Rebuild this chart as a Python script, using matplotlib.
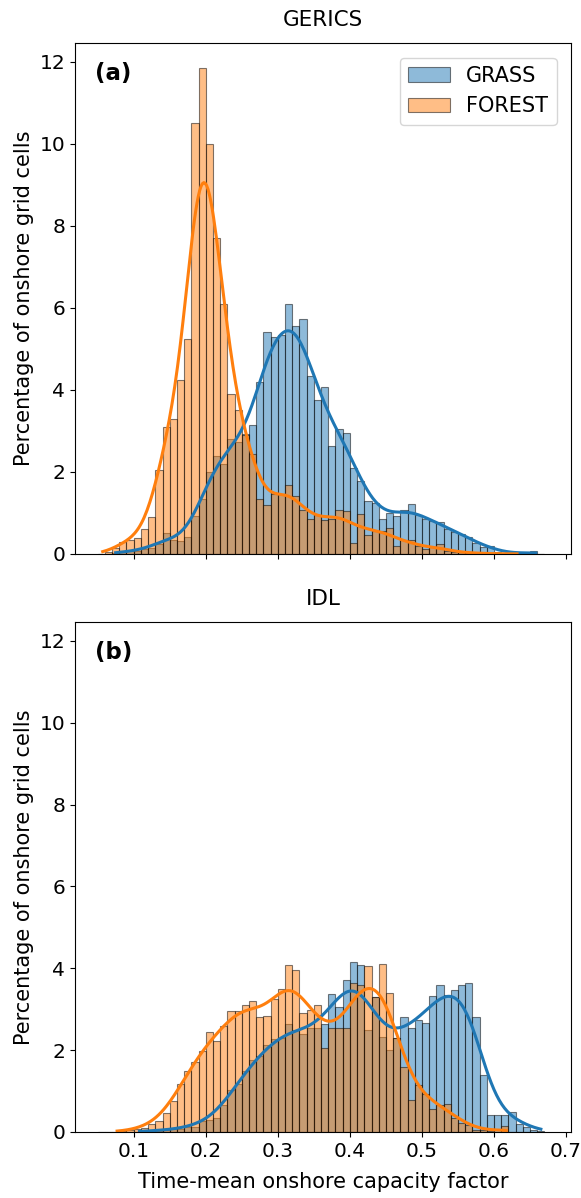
import numpy as np
import matplotlib
matplotlib.use("Agg")
import matplotlib.pyplot as plt
from matplotlib.patches import Patch

# histogram bins: left edges 0.05 ... 0.66, width 0.01
bin_width = 0.01
bin_left = np.round(0.05 + bin_width * np.arange(62), 2)

# percentage of onshore grid cells per bin
gerics_grass = [
    0, 0, 0.02, 0.05, 0.07, 0.08, 0.12, 0.15, 0.25, 0.5,
    0.35, 0.31, 0.41, 0.93, 1.34, 1.99, 2.4, 2.2, 2.8, 2.72,
    2.93, 3.15, 4.2, 5.42, 5.28, 5.34, 6.1, 5.56, 5.72, 4.34,
    3.76, 4.06, 2.63, 3.04, 2.96, 2.09, 1.77, 1.28, 1.25, 0.85,
    1.0, 0.92, 1.07, 1.21, 0.95, 0.85, 0.8, 0.78, 0.62, 0.54,
    0.48, 0.42, 0.26, 0.18, 0.2, 0.05, 0.03, 0.02, 0.01, 0.01,
    0.08, 0,
]
gerics_forest = [
    0, 0.05, 0.15, 0.3, 0.35, 0.4, 0.6, 0.9, 2.05, 3.1,
    3.3, 4.25, 5.25, 10.5, 11.85, 10.0, 7.7, 6.1, 3.9, 3.5,
    2.9, 2.44, 1.35, 1.2, 1.46, 1.46, 1.67, 1.42, 1.06, 0.85,
    0.95, 0.83, 0.85, 1.06, 1.05, 0.26, 0.98, 0.46, 0.55, 0.55,
    0.64, 0.2, 0.33, 0.34, 0.2, 0.11, 0.16, 0.24, 0.06, 0.05,
    0.04, 0.03, 0.02, 0.01, 0.01, 0.0, 0.01, 0, 0, 0,
    0, 0,
]
idl_grass = [
    0, 0, 0, 0, 0, 0.01, 0.02, 0.03, 0.03, 0.05,
    0.07, 0.08, 0.12, 0.12, 0.27, 0.29, 0.33, 0.65, 1.02, 1.18,
    1.5, 1.75, 1.85, 2.12, 2.26, 2.3, 2.63, 2.49, 2.4, 2.55,
    2.55, 2.63, 3.38, 3.06, 3.71, 4.16, 4.08, 2.49, 3.3, 2.33,
    2.0, 2.3, 2.8, 2.55, 2.74, 2.66, 3.33, 3.58, 3.35, 3.47,
    3.6, 3.65, 2.8, 1.4, 0.41, 0.41, 0.42, 0.5, 0.2, 0.12,
    0.06, 0.03,
]
idl_forest = [
    0, 0, 0, 0.02, 0.04, 0.08, 0.1, 0.2, 0.28, 0.46,
    0.75, 1.18, 1.5, 1.71, 1.97, 2.44, 2.22, 2.58, 2.96, 2.96,
    3.1, 3.19, 2.8, 2.83, 3.25, 3.5, 4.09, 3.95, 2.91, 2.97,
    3.1, 2.06, 2.55, 2.55, 2.55, 3.65, 3.6, 4.06, 3.29, 4.1,
    3.39, 2.3, 1.59, 0.77, 1.16, 0.94, 0.57, 0.65, 0.68, 0.33,
    0.22, 0.16, 0.06, 0.04, 0.02, 0.01, 0.15, 0, 0, 0,
    0, 0,
]

# data range of each series (kde is drawn with cut=0)
gerics_grass_range = [0.075, 0.658]
gerics_forest_range = [0.057, 0.632]
idl_grass_range = [0.108, 0.665]
idl_forest_range = [0.077, 0.617]

models = ["GERICS", "IDL"]
panel_tags = ["(a)", "(b)"]
land_types = ["GRASS", "FOREST"]

N_CELLS = 2500  # rough sample size used for the Scott bandwidth
C_GRASS = "#1f77b4"
C_FOREST = "#ff7f0e"


def weighted_kde(heights, data_range):
    h = np.asarray(heights, dtype=float)
    centers = bin_left + bin_width / 2
    mean = np.sum(h * centers) / h.sum()
    std = np.sqrt(np.sum(h * (centers - mean) ** 2) / h.sum())
    bw = std * N_CELLS ** (-1 / 5)
    bw = np.sqrt(bw ** 2 + bin_width ** 2 / 12)
    xs = np.linspace(data_range[0], data_range[1], 300)
    dens = np.sum(h[None, :] * np.exp(-0.5 * ((xs[:, None] - centers[None, :]) / bw) ** 2), axis=1)
    dens /= h.sum() * bw * np.sqrt(2 * np.pi)
    # scale so the curve area matches the percentage histogram
    return xs, dens * h.sum() * bin_width


plt.rcParams["font.size"] = 14.5
fig = plt.figure(figsize=(5.81, 11.98), dpi=100)
ax_a = fig.add_axes([0.129, 0.5376, 0.854, 0.4265])
ax_b = fig.add_axes([0.129, 0.0551, 0.854, 0.4257], sharex=ax_a, sharey=ax_a)

panels = [
    (ax_a, gerics_grass, gerics_forest, gerics_grass_range, gerics_forest_range),
    (ax_b, idl_grass, idl_forest, idl_grass_range, idl_forest_range),
]

for i, (ax, grass, forest, g_rng, f_rng) in enumerate(panels):
    for vals, col in [(grass, C_GRASS), (forest, C_FOREST)]:
        ax.bar(bin_left, vals, width=bin_width, align="edge", color=col, alpha=0.5,
               edgecolor="black", linewidth=0.8)
    for vals, rng, col in [(grass, g_rng, C_GRASS), (forest, f_rng, C_FOREST)]:
        xs, ys = weighted_kde(vals, rng)
        ax.plot(xs, ys, color=col, lw=2.2)
    ax.set_title(models[i], fontsize=15.5, pad=12)
    ax.set_ylabel("Percentage of onshore grid cells", fontsize=15)
    ax.text(0.04, 0.962, panel_tags[i], transform=ax.transAxes, fontsize=16.5,
            fontweight="bold", ha="left", va="top")

ax_a.set_xlim(0.0185, 0.707)
ax_a.set_ylim(0, 12.46)
ax_a.set_yticks([0, 2, 4, 6, 8, 10, 12])
ax_a.set_xticks([0.1, 0.2, 0.3, 0.4, 0.5, 0.6, 0.7])
ax_a.tick_params(labelbottom=False)
ax_b.set_xlabel("Time-mean onshore capacity factor", fontsize=15, labelpad=8)

handles = [Patch(facecolor=C_GRASS, alpha=0.5, edgecolor="black", linewidth=0.8),
           Patch(facecolor=C_FOREST, alpha=0.5, edgecolor="black", linewidth=0.8)]
ax_a.legend(handles, land_types, loc="upper right", fontsize=15, borderaxespad=0.7)

fig.savefig("out.png", dpi=100)
